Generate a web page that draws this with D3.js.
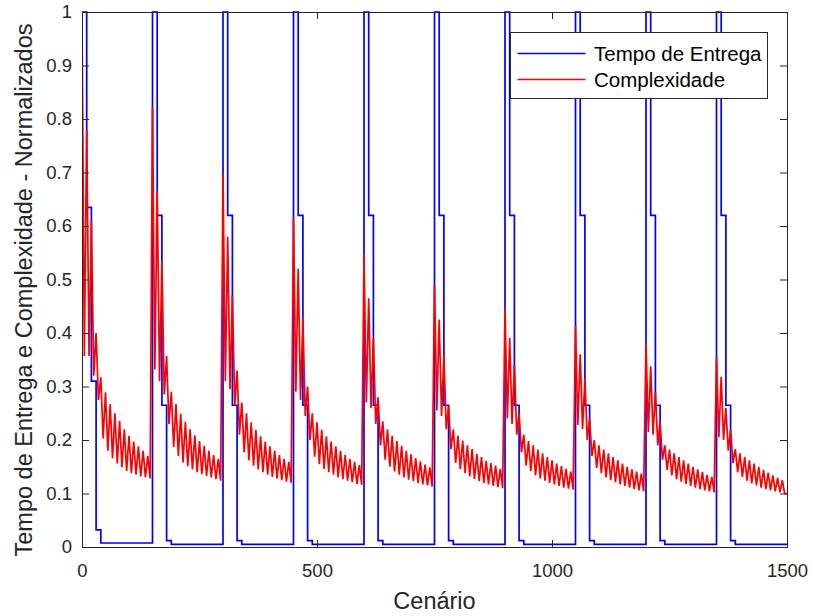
<!DOCTYPE html>
<html>
<head>
<meta charset="utf-8">
<script src="https://cdn.jsdelivr.net/npm/d3@7"></script>
<style>
  html, body { margin: 0; padding: 0; background: #fff; }
  svg { display: block; font-family: "Liberation Sans", Arial, sans-serif; }
</style>
</head>
<body>
<svg id="chart" width="813" height="616"></svg>
<script>
// Scenario layout: 10 groups of 150 scenarios, each split into blocks of 10
const blockLength = 10;
const periodStarts = [0, 150, 300, 450, 600, 750, 900, 1050, 1200, 1350];

// Normalised delivery time: level held in blocks 0..3, last level held to the end of the group
const entregaLevels = [
  [1, 0.635, 0.31, 0.032, 0.0075],
  [1, 0.62, 0.265, 0.012, 0.005],
  [1, 0.62, 0.265, 0.012, 0.005],
  [1, 0.62, 0.265, 0.012, 0.005],
  [1, 0.62, 0.265, 0.012, 0.005],
  [1, 0.62, 0.265, 0.012, 0.005],
  [1, 0.62, 0.265, 0.012, 0.005],
  [1, 0.62, 0.265, 0.012, 0.005],
  [1, 0.62, 0.265, 0.012, 0.005],
  [1, 0.62, 0.265, 0.012, 0.005]
];

// Normalised complexity: peak at the start of each block, trough mid-block
const complexPeaks = [
  [1.0, 0.78, 0.61, 0.40, 0.317, 0.289, 0.267, 0.25, 0.236, 0.22, 0.208, 0.197, 0.188, 0.18, 0.17],
  [0.823, 0.665, 0.533, 0.357, 0.29, 0.267, 0.249, 0.234, 0.22, 0.209, 0.198, 0.189, 0.18, 0.172, 0.165],
  [0.70, 0.58, 0.47, 0.33, 0.27, 0.25, 0.233, 0.219, 0.207, 0.197, 0.188, 0.18, 0.172, 0.165, 0.159],
  [0.617, 0.52, 0.43, 0.30, 0.25, 0.233, 0.219, 0.207, 0.197, 0.188, 0.18, 0.172, 0.165, 0.159, 0.153],
  [0.547, 0.465, 0.39, 0.28, 0.235, 0.22, 0.208, 0.198, 0.189, 0.18, 0.173, 0.166, 0.16, 0.154, 0.149],
  [0.49, 0.425, 0.36, 0.264, 0.22, 0.208, 0.199, 0.19, 0.183, 0.174, 0.168, 0.161, 0.157, 0.152, 0.146],
  [0.447, 0.391, 0.34, 0.25, 0.21, 0.198, 0.19, 0.182, 0.175, 0.168, 0.162, 0.156, 0.151, 0.146, 0.141],
  [0.414, 0.36, 0.315, 0.24, 0.2, 0.19, 0.182, 0.175, 0.168, 0.162, 0.156, 0.15, 0.145, 0.141, 0.137],
  [0.382, 0.338, 0.29, 0.235, 0.19, 0.182, 0.175, 0.168, 0.162, 0.156, 0.15, 0.145, 0.14, 0.135, 0.131],
  [0.356, 0.318, 0.26, 0.22, 0.183, 0.175, 0.168, 0.162, 0.156, 0.15, 0.144, 0.139, 0.134, 0.129, 0.125]
];
const complexTroughs = [
  [0.357, 0.357, 0.32, 0.275, 0.203, 0.18, 0.166, 0.156, 0.149, 0.142, 0.138, 0.135, 0.132, 0.13, 0.128],
  [0.332, 0.31, 0.285, 0.23, 0.187, 0.17, 0.158, 0.151, 0.145, 0.14, 0.136, 0.133, 0.13, 0.127, 0.124],
  [0.31, 0.295, 0.265, 0.21, 0.177, 0.162, 0.152, 0.145, 0.14, 0.135, 0.131, 0.128, 0.125, 0.122, 0.12],
  [0.29, 0.275, 0.245, 0.2, 0.169, 0.155, 0.146, 0.14, 0.135, 0.13, 0.127, 0.124, 0.121, 0.118, 0.116],
  [0.27, 0.26, 0.23, 0.19, 0.163, 0.15, 0.141, 0.135, 0.13, 0.126, 0.123, 0.12, 0.117, 0.115, 0.113],
  [0.255, 0.245, 0.22, 0.183, 0.157, 0.146, 0.138, 0.132, 0.127, 0.123, 0.12, 0.117, 0.114, 0.112, 0.11],
  [0.24, 0.23, 0.21, 0.177, 0.152, 0.142, 0.134, 0.128, 0.124, 0.12, 0.117, 0.114, 0.111, 0.109, 0.107],
  [0.228, 0.22, 0.2, 0.17, 0.148, 0.138, 0.13, 0.125, 0.121, 0.117, 0.114, 0.111, 0.108, 0.106, 0.104],
  [0.215, 0.21, 0.19, 0.163, 0.144, 0.134, 0.127, 0.122, 0.118, 0.114, 0.111, 0.108, 0.106, 0.104, 0.102],
  [0.205, 0.2, 0.18, 0.157, 0.14, 0.131, 0.124, 0.119, 0.115, 0.111, 0.108, 0.106, 0.104, 0.102, 0.1]
];
const complexLast = 0.1;

const xTicks = [0, 500, 1000, 1500];
const yTicks = [0, 0.1, 0.2, 0.3, 0.4, 0.5, 0.6, 0.7, 0.8, 0.9, 1];
const seriesNames = ["Tempo de Entrega", "Complexidade"];
const seriesColors = ["#0000ff", "#ff0000"];
const xLabel = "Cenário";
const yLabel = "Tempo de Entrega e Complexidade - Normalizados";

// ---- layout ----
const svg = d3.select("#chart");
const plot = { left: 82, right: 787, top: 12, bottom: 547 };
const x = d3.scaleLinear().domain([0, 1500]).range([plot.left, plot.right]);
const y = d3.scaleLinear().domain([0, 1]).range([plot.bottom, plot.top]);
const axisColor = "#262626";
const tickLen = 7;
const lineWidth = 1.7;

// ---- series points ----
const entregaPts = [];
periodStarts.forEach((s, p) => {
  entregaLevels[p].forEach((v, k) => entregaPts.push([s + k * blockLength, v]));
});
entregaPts.push([1500, entregaLevels[entregaLevels.length - 1][4]]);

const complexPts = [];
periodStarts.forEach((s, p) => {
  complexPeaks[p].forEach((v, k) => {
    complexPts.push([s + k * blockLength, v]);
    complexPts.push([s + k * blockLength + blockLength / 2, complexTroughs[p][k]]);
  });
});
complexPts.push([1500, complexLast]);

// ---- lines ----
svg.append("defs").append("clipPath").attr("id", "clip")
  .append("rect").attr("x", plot.left).attr("y", plot.top - 1)
  .attr("width", plot.right - plot.left).attr("height", plot.bottom - plot.top + 2);

const g = svg.append("g").attr("clip-path", "url(#clip)");
g.append("path")
  .attr("d", d3.line().x(d => x(d[0])).y(d => y(d[1])).curve(d3.curveStepAfter)(entregaPts))
  .attr("fill", "none").attr("stroke", seriesColors[0]).attr("stroke-width", lineWidth);
g.append("path")
  .attr("d", d3.line().x(d => x(d[0])).y(d => y(d[1]))(complexPts))
  .attr("fill", "none").attr("stroke", seriesColors[1]).attr("stroke-width", lineWidth)
  .attr("stroke-linejoin", "miter").attr("stroke-miterlimit", 2);

// ---- axes (box with inward ticks on all sides) ----
const axB = d3.axisBottom(x).tickValues(xTicks).tickSize(-tickLen).tickPadding(17).tickFormat(d3.format("d"));
const axT = d3.axisTop(x).tickValues(xTicks).tickSize(-tickLen).tickFormat("");
const axL = d3.axisLeft(y).tickValues(yTicks).tickSize(-tickLen).tickPadding(10)
  .tickFormat(d => d === 0 || d === 1 ? d3.format("d")(d) : d3.format(".1f")(d));
const axR = d3.axisRight(y).tickValues(yTicks).tickSize(-tickLen).tickFormat("");

function styleAxis(sel) {
  sel.selectAll("path").attr("stroke", axisColor).attr("stroke-width", 1);
  sel.selectAll("line").attr("stroke", axisColor).attr("stroke-width", 1);
  sel.selectAll("text").attr("fill", axisColor).style("font-size", "18.5px")
    .style("font-family", "'Liberation Sans', Arial, sans-serif");
}
svg.append("g").attr("transform", `translate(0,${plot.bottom})`).call(axB).call(styleAxis);
svg.append("g").attr("transform", `translate(0,${plot.top})`).call(axT).call(styleAxis);
svg.append("g").attr("transform", `translate(${plot.left},0)`).call(axL).call(styleAxis);
svg.append("g").attr("transform", `translate(${plot.right},0)`).call(axR).call(styleAxis);

// ---- axis labels ----
svg.append("text")
  .attr("x", (plot.left + plot.right) / 2).attr("y", 609)
  .attr("text-anchor", "middle").attr("fill", axisColor)
  .style("font-size", "23.5px").text(xLabel);
svg.append("text")
  .attr("transform", `translate(32,290) rotate(-90)`)
  .attr("text-anchor", "middle").attr("fill", axisColor)
  .style("font-size", "23.5px").text(yLabel);

// ---- legend ----
const lg = svg.append("g").attr("transform", "translate(510.5,32.5)");
lg.append("rect").attr("width", 257).attr("height", 66)
  .attr("fill", "#fff").attr("stroke", axisColor).attr("stroke-width", 1);
seriesNames.forEach((name, i) => {
  const yy = 21 + i * 26;
  lg.append("line").attr("x1", 7).attr("x2", 75).attr("y1", yy).attr("y2", yy)
    .attr("stroke", seriesColors[i]).attr("stroke-width", lineWidth);
  lg.append("text").attr("x", 83.5).attr("y", yy + 7)
    .attr("fill", "#000").style("font-size", "20.5px").text(name);
});
</script>
</body>
</html>
